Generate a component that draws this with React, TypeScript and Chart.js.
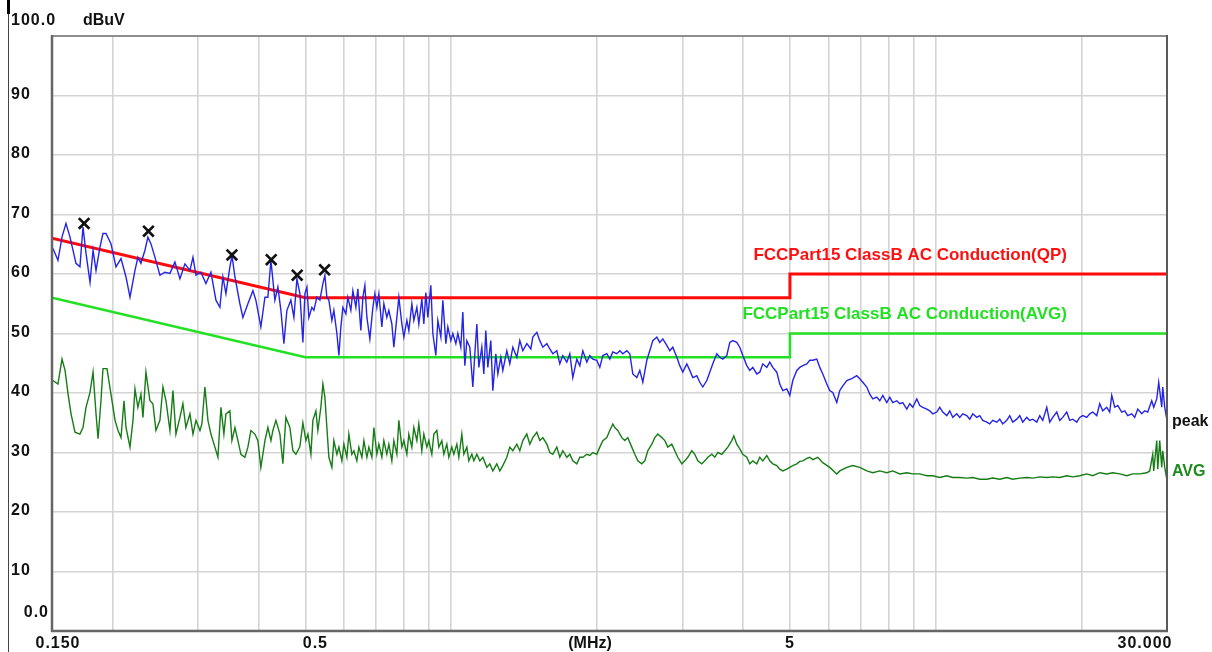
import React, { useEffect, useRef } from "react";
import { Chart, registerables } from "chart.js";

Chart.register(...registerables);

// ---- axis definitions ----
const Y_TICKS = [90, 80, 70, 60, 50, 40, 30, 20, 10];
const X_GRID = [0.15, 0.2, 0.3, 0.4, 0.5, 0.6, 0.7, 0.8, 0.9, 1, 2, 3, 4, 5, 6, 7, 8, 9, 10, 20, 30];
const X_LABELS: [number, string][] = [
  [0.15, "0.150"],
  [0.5, "0.5"],
  [5, "5"],
  [30, "30.000"],
];
const X_UNIT = "(MHz)";
const Y_UNIT = "dBuV";
const Y_TOP = "100.0";
const Y_BOTTOM = "0.0";

// ---- limit lines (MHz, dBuV) ----
const QP_LIMIT: [number, number][] = [[0.15, 66], [0.5, 56], [5, 56], [5, 60], [30, 60]];
const AVG_LIMIT: [number, number][] = [[0.15, 56], [0.5, 46], [5, 46], [5, 50], [30, 50]];
const QP_LABEL = "FCCPart15 ClassB AC Conduction(QP)";
const AVG_LABEL = "FCCPart15 ClassB AC Conduction(AVG)";

// ---- peak markers (MHz, dBuV) ----
const MARKERS: [number, number][] = [
  [0.1747, 68.5], [0.2372, 67.2], [0.3527, 63.2], [0.4251, 62.4], [0.4809, 59.8], [0.5478, 60.7],
];

// ---- peak trace (MHz, dBuV) ----
const PEAK: [number, number][] = [
  [0.1507,64.3],[0.1543,62.3],[0.1573,66.2],[0.1603,68.5],[0.1634,66.2],[0.1681,61.8],[0.1713,61.2],[0.1738,67.9],[0.1763,63.5],[0.1797,58.6],
  [0.1823,64.0],[0.1849,60.6],[0.1884,64.5],[0.1911,66.8],[0.1939,66.8],[0.1985,65.1],[0.2033,61.2],[0.2082,62.6],[0.2132,59.5],[0.2173,56.1],
  [0.2225,60.6],[0.2256,62.8],[0.2289,61.8],[0.2333,64.0],[0.2366,66.2],[0.2400,65.1],[0.2447,62.8],[0.2505,59.8],[0.2565,60.3],[0.2627,60.1],
  [0.2690,62.0],[0.2755,59.2],[0.2821,61.7],[0.2889,60.6],[0.2931,62.8],[0.2973,59.8],[0.3044,60.3],[0.3117,58.4],[0.3192,60.3],[0.3269,55.6],
  [0.3331,54.4],[0.3379,59.5],[0.3428,56.7],[0.3493,61.2],[0.3528,63.1],[0.3578,59.5],[0.3663,55.0],[0.3716,52.7],[0.3805,55.0],[0.3897,57.2],
  [0.3952,55.6],[0.4047,51.1],[0.4126,56.1],[0.4184,56.1],[0.4245,62.3],[0.4326,55.6],[0.4388,57.8],[0.4451,53.9],[0.4515,48.3],[0.4580,53.9],
  [0.4667,55.6],[0.4735,52.7],[0.4803,59.2],[0.4872,56.7],[0.4941,48.5],[0.4989,56.7],[0.5037,57.8],[0.5084,52.7],[0.5157,54.4],[0.5206,53.9],
  [0.5281,56.1],[0.5357,55.6],[0.5434,58.4],[0.5486,59.8],[0.5538,56.1],[0.5591,55.6],[0.5671,52.2],[0.5725,53.9],[0.5808,50.0],[0.5863,46.3],
  [0.5919,51.1],[0.5975,54.4],[0.6061,53.3],[0.6119,56.1],[0.6207,53.9],[0.6266,57.2],[0.6356,54.4],[0.6416,57.5],[0.6508,50.5],[0.6571,56.1],
  [0.6634,58.1],[0.6698,52.7],[0.6793,49.1],[0.6891,54.4],[0.6957,56.7],[0.7023,54.4],[0.7090,56.7],[0.7191,51.1],[0.7260,55.0],[0.7364,52.7],
  [0.7434,53.9],[0.7541,51.6],[0.7613,47.7],[0.7723,52.7],[0.7796,56.1],[0.7908,51.6],[0.7984,49.4],[0.8099,52.2],[0.8175,50.5],[0.8293,55.0],
  [0.8372,52.2],[0.8493,54.4],[0.8573,51.6],[0.8696,55.8],[0.8779,51.6],[0.8863,56.9],[0.8948,52.7],[0.9076,58.1],[0.9163,50.0],[0.9294,46.3],
  [0.9383,52.2],[0.9518,49.4],[0.9609,55.6],[0.9747,48.3],[0.9840,51.1],[0.9981,48.8],[1.0076,50.0],[1.0221,48.3],[1.0319,50.0],[1.0466,47.7],
  [1.0566,53.6],[1.0667,44.6],[1.0769,48.8],[1.0923,47.7],[1.1081,41.0],[1.1187,46.6],[1.1294,51.6],[1.1401,44.3],[1.1564,47.7],[1.1675,43.2],
  [1.1786,50.5],[1.1899,44.3],[1.2069,48.8],[1.2185,40.4],[1.2360,46.6],[1.2479,43.2],[1.2657,46.0],[1.2778,43.8],[1.3023,47.1],[1.3209,44.9],
  [1.3400,47.7],[1.3657,46.0],[1.3852,48.8],[1.4052,47.1],[1.4322,48.3],[1.4596,47.4],[1.4735,49.4],[1.5018,50.2],[1.5233,48.8],[1.5452,47.7],
  [1.5750,48.3],[1.5974,47.4],[1.6204,46.6],[1.6516,47.1],[1.6751,44.9],[1.6993,46.3],[1.7320,45.2],[1.7567,46.6],[1.7820,42.6],[1.8162,45.7],
  [1.8421,44.6],[1.8687,47.1],[1.9046,45.2],[1.9318,46.3],[1.9596,45.7],[1.9973,45.5],[2.0258,44.3],[2.0550,46.3],[2.0945,46.6],[2.1243,45.7],
  [2.1550,46.9],[2.1964,46.6],[2.2277,47.1],[2.2598,46.6],[2.3032,47.1],[2.3360,46.6],[2.3698,43.2],[2.4153,42.6],[2.4498,43.8],[2.4851,41.8],
  [2.5328,45.5],[2.5689,47.1],[2.6061,48.8],[2.6561,49.4],[2.6940,48.5],[2.7329,49.1],[2.7853,48.0],[2.8251,47.1],[2.8658,47.7],[2.9208,46.0],
  [2.9625,44.6],[3.0053,43.5],[3.0630,44.9],[3.1066,43.8],[3.1515,42.6],[3.2120,42.9],[3.2578,41.8],[3.3048,41.0],[3.3683,42.1],[3.4163,43.5],
  [3.4657,44.9],[3.5322,46.6],[3.5826,46.0],[3.6343,45.7],[3.7041,46.3],[3.7569,48.5],[3.8111,48.8],[3.8843,48.5],[3.9397,47.7],[3.9966,46.3],
  [4.0734,44.6],[4.1314,43.8],[4.1910,44.3],[4.2715,43.2],[4.3324,43.5],[4.3950,44.9],[4.4794,44.3],[4.5433,45.2],[4.6088,44.3],[4.6973,43.5],
  [4.7643,41.5],[4.8331,40.4],[4.9259,40.7],[4.9961,39.6],[5.0682,42.1],[5.1656,43.8],[5.2392,44.3],[5.3149,44.6],[5.4170,44.9],[5.4942,45.5],
  [5.5735,45.5],[5.6806,45.7],[5.7616,44.3],[5.8447,43.2],[5.9570,41.5],[6.0419,40.4],[6.1291,40.1],[6.2468,38.4],[6.3359,40.4],[6.4273,41.2],
  [6.5508,42.1],[6.7079,42.4],[6.8696,42.9],[6.9675,42.4],[7.0681,41.8],[7.2038,41.0],[7.3065,39.8],[7.4120,39.0],[7.5544,39.3],[7.6621,38.7],
  [7.7726,39.6],[7.9219,38.4],[8.0349,39.3],[8.1508,38.4],[8.3074,38.7],[8.4258,38.2],[8.5474,38.4],[8.7116,37.3],[8.8358,38.2],[8.9634,37.6],
  [9.1356,39.0],[9.2658,37.9],[9.3995,37.6],[9.5800,37.3],[9.7166,37.0],[9.8569,36.5],[10.046,36.8],[10.189,37.6],[10.336,36.8],[10.535,36.2],
  [10.685,37.0],[10.840,35.9],[11.048,36.5],[11.206,35.9],[11.367,36.5],[11.586,36.2],[11.751,35.6],[11.920,36.5],[12.149,35.9],[12.322,36.2],
  [12.500,35.4],[12.740,35.1],[12.921,34.8],[13.109,35.4],[13.360,35.1],[13.551,35.6],[13.746,34.8],[14.010,35.4],[14.209,36.2],[14.415,35.1],
  [14.692,35.6],[14.901,36.2],[15.116,35.1],[15.407,35.9],[15.626,35.4],[15.852,35.6],[16.156,35.1],[16.387,36.2],[16.623,35.4],[16.943,37.6],
  [17.184,35.1],[17.432,35.9],[17.767,36.8],[18.020,35.4],[18.280,35.9],[18.631,36.8],[18.897,35.4],[19.170,35.6],[19.538,35.1],[19.816,35.9],
  [20.102,36.2],[20.488,35.9],[20.780,36.5],[21.081,36.8],[21.486,36.2],[21.792,38.2],[22.106,37.0],[22.530,37.6],[22.851,36.8],[23.071,39.6],
  [23.403,37.6],[23.738,37.9],[24.194,36.8],[24.542,37.0],[24.893,36.2],[25.371,36.5],[25.736,35.9],[26.104,37.3],[26.605,36.5],[26.988,37.0],
  [27.374,36.8],[27.900,38.7],[28.167,37.6],[28.572,39.0],[28.843,41.8],[29.257,37.6],[29.397,41.0],[29.678,37.6],[30.0,35.4],
];

// ---- average trace (MHz, dBuV) ----
const AVG: [number, number][] = [
  [0.1507,42.1],[0.1543,41.5],[0.1573,45.7],[0.1596,43.8],[0.1619,39.8],[0.1642,36.5],[0.1673,33.4],[0.1713,33.1],[0.1738,34.2],[0.1763,37.6],
  [0.1797,40.1],[0.1823,43.5],[0.1849,36.5],[0.1867,32.3],[0.1893,38.7],[0.1911,44.1],[0.1948,44.1],[0.1985,39.8],[0.2024,35.4],[0.2053,33.7],
  [0.2082,32.5],[0.2112,38.7],[0.2132,34.2],[0.2173,30.9],[0.2204,35.4],[0.2225,40.7],[0.2256,37.6],[0.2289,39.8],[0.2311,35.9],[0.2344,43.5],
  [0.2389,38.7],[0.2423,38.2],[0.2458,33.7],[0.2505,35.4],[0.2541,41.0],[0.2578,38.7],[0.2627,33.7],[0.2665,40.4],[0.2703,33.1],[0.2755,35.9],
  [0.2794,38.2],[0.2834,34.2],[0.2889,36.5],[0.2931,33.1],[0.2973,35.4],[0.3030,33.7],[0.3058,34.8],[0.3102,41.0],[0.3147,35.4],[0.3192,33.1],
  [0.3253,30.9],[0.3300,29.2],[0.3347,37.6],[0.3395,33.1],[0.3428,36.5],[0.3493,37.0],[0.3527,32.0],[0.3578,34.2],[0.3629,32.0],[0.3681,29.7],
  [0.3751,29.2],[0.3805,30.9],[0.3860,33.7],[0.3934,33.1],[0.3990,32.0],[0.4047,27.5],[0.4126,32.0],[0.4184,34.2],[0.4245,32.0],[0.4285,33.7],
  [0.4347,35.4],[0.4430,33.1],[0.4493,28.1],[0.4558,35.9],[0.4645,34.2],[0.4712,30.3],[0.4780,29.7],[0.4872,31.0],[0.4941,35.0],[0.5012,32.0],
  [0.5061,33.1],[0.5133,29.7],[0.5182,35.4],[0.5256,37.0],[0.5306,33.7],[0.5382,37.6],[0.5434,41.5],[0.5486,39.3],[0.5538,34.2],[0.5591,29.2],
  [0.5671,27.5],[0.5725,32.0],[0.5808,29.7],[0.5863,30.9],[0.5947,28.6],[0.6004,31.4],[0.6090,29.2],[0.6148,33.1],[0.6236,29.7],[0.6296,30.3],
  [0.6386,28.6],[0.6447,30.9],[0.6540,29.2],[0.6603,32.0],[0.6698,29.2],[0.6761,30.9],[0.6858,29.2],[0.6924,34.2],[0.7023,29.7],[0.7090,31.4],
  [0.7191,29.2],[0.7260,32.0],[0.7364,29.7],[0.7434,31.4],[0.7541,28.6],[0.7613,32.0],[0.7723,29.7],[0.7796,35.4],[0.7908,30.9],[0.7984,32.0],
  [0.8099,29.7],[0.8175,33.1],[0.8293,30.9],[0.8372,34.2],[0.8493,32.0],[0.8573,34.8],[0.8696,30.3],[0.8779,33.1],[0.8906,30.9],[0.8990,32.0],
  [0.9119,29.7],[0.9207,33.1],[0.9339,33.7],[0.9427,30.9],[0.9563,32.0],[0.9655,29.7],[0.9793,31.4],[0.9886,29.2],[1.0028,30.9],[1.0124,29.7],
  [1.0270,31.4],[1.0367,29.2],[1.0516,33.1],[1.0617,29.7],[1.0769,30.9],[1.0871,28.6],[1.1028,29.7],[1.1134,28.6],[1.1294,29.7],[1.1455,28.6],
  [1.1619,29.2],[1.1843,27.5],[1.2012,28.1],[1.2185,26.9],[1.2419,28.1],[1.2596,26.9],[1.2778,27.8],[1.3023,29.2],[1.3209,30.9],[1.3400,30.3],
  [1.3657,31.4],[1.3852,30.3],[1.4052,32.0],[1.4322,33.1],[1.4526,31.4],[1.4735,32.5],[1.5018,33.4],[1.5233,32.0],[1.5452,32.5],[1.5750,31.4],
  [1.5974,30.0],[1.6204,29.7],[1.6516,30.9],[1.6751,29.2],[1.6993,30.3],[1.7320,29.2],[1.7567,29.7],[1.7820,28.6],[1.8162,28.1],[1.8421,29.2],
  [1.8687,29.2],[1.9046,29.7],[1.9318,29.5],[1.9596,30.0],[1.9973,29.7],[2.0258,30.9],[2.0550,32.0],[2.0945,32.5],[2.1243,33.7],[2.1550,34.8],
  [2.1756,34.2],[2.2069,33.7],[2.2490,32.5],[2.2814,32.0],[2.3142,32.5],[2.3585,30.9],[2.3925,29.7],[2.4269,28.6],[2.4732,28.1],[2.5088,28.6],
  [2.5449,30.3],[2.5936,31.4],[2.6309,32.5],[2.6688,33.1],[2.7198,32.5],[2.7590,32.0],[2.7987,30.9],[2.8521,31.4],[2.8932,30.3],[2.9348,29.2],
  [2.9909,28.1],[3.0340,28.6],[3.0776,29.2],[3.1364,30.3],[3.1816,29.7],[3.2274,28.6],[3.2890,28.1],[3.3364,28.6],[3.3844,29.2],[3.4491,29.7],
  [3.4988,29.2],[3.5491,30.0],[3.6169,29.7],[3.6690,30.3],[3.7218,30.9],[3.7929,32.0],[3.8293,32.8],[3.8843,31.4],[3.9397,30.6],[3.9966,29.7],
  [4.0734,29.2],[4.1314,28.1],[4.1910,28.6],[4.2715,28.1],[4.3324,29.2],[4.3950,28.6],[4.4794,29.5],[4.5433,28.6],[4.6088,28.1],[4.6973,27.8],
  [4.7643,27.2],[4.8331,26.9],[4.9259,27.2],[4.9961,27.5],[5.0682,27.8],[5.1656,28.1],[5.2392,28.5],[5.3149,28.6],[5.4170,29.0],[5.4942,29.2],
  [5.5735,28.8],[5.7078,29.2],[5.8447,28.3],[6.0419,27.5],[6.2468,26.4],[6.3359,26.9],[6.5508,27.5],[6.7400,27.8],[6.9675,27.5],[7.2038,26.9],
  [7.4120,26.6],[7.6621,26.9],[7.9219,26.6],[8.1508,26.9],[8.4258,26.4],[8.7116,26.6],[8.9634,26.4],[9.2658,26.4],[9.5800,26.1],[9.8569,26.1],
  [10.189,25.8],[10.535,26.1],[10.840,25.8],[11.206,25.8],[11.586,25.7],[11.920,25.8],[12.322,25.5],[12.740,25.5],[13.109,25.7],[13.551,25.5],
  [14.010,25.8],[14.415,25.5],[14.901,25.7],[15.407,25.8],[15.852,25.7],[16.387,25.9],[16.943,25.8],[17.432,25.9],[18.020,25.8],[18.631,26.1],
  [19.170,25.9],[19.816,26.1],[20.488,26.4],[21.081,26.1],[21.792,26.6],[22.530,26.4],[23.182,26.6],[23.960,26.4],[24.777,26.1],[25.493,26.4],
  [26.353,26.4],[27.246,26.6],[27.635,26.9],[28.034,29.7],[28.167,26.9],[28.572,32.0],[28.709,27.2],[28.980,32.0],[29.257,27.5],[29.397,30.3],
  [29.678,27.5],[30.0,25.3],
];

const FONT = '"Liberation Sans", Arial, sans-serif';

const toXY = (arr: [number, number][]) => arr.map(([x, y]) => ({ x, y }));

const decorPlugin = {
  id: "decor",
  afterDraw(chart: any) {
    const { ctx, chartArea: a, scales } = chart;
    const xs = scales.x;
    const ys = scales.y;
    ctx.save();

    // plot frame
    ctx.strokeStyle = "#8e8e8e";
    ctx.lineWidth = 2;
    ctx.strokeRect(a.left, a.top, a.right - a.left, a.bottom - a.top);
    ctx.strokeStyle = "#666666";
    ctx.lineWidth = 2.5;
    ctx.beginPath();
    ctx.moveTo(a.left, a.top - 1);
    ctx.lineTo(a.left, a.bottom);
    ctx.lineTo(a.right + 1, a.bottom);
    ctx.stroke();
    ctx.strokeStyle = "#5a5a5a";
    ctx.lineWidth = 2;
    ctx.beginPath();
    ctx.moveTo(a.right, a.top - 1);
    ctx.lineTo(a.right, a.bottom);
    ctx.stroke();

    // page edge line
    ctx.strokeStyle = "#444";
    ctx.lineWidth = 1;
    ctx.beginPath();
    ctx.moveTo(8.5, 0);
    ctx.lineTo(8.5, 652);
    ctx.stroke();
    ctx.fillStyle = "#000";
    ctx.fillRect(7, 0, 3, 14);

    // y axis labels
    ctx.font = `bold 16px ${FONT}`;
    ctx.fillStyle = "#111";
    ctx.textBaseline = "middle";
    ctx.textAlign = "left";
    (ctx as any).letterSpacing = "1px";
    ctx.fillText(Y_TOP, 11, 21);
    Y_TICKS.forEach((v) => ctx.fillText(String(v), 11, ys.getPixelForValue(v) - 1));
    ctx.textAlign = "right";
    ctx.fillText(Y_BOTTOM, 49, 613);
    (ctx as any).letterSpacing = "0px";
    ctx.textAlign = "left";
    ctx.fillText(Y_UNIT, 83, 21);

    // x axis labels
    (ctx as any).letterSpacing = "1px";
    const shift = [6, 10, 0, -22];
    X_LABELS.forEach(([v, t], i) => {
      ctx.textAlign = "center";
      ctx.fillText(t, xs.getPixelForValue(v) + shift[i], 644);
    });
    (ctx as any).letterSpacing = "0px";
    ctx.textAlign = "center";
    ctx.fillText(X_UNIT, 590, 644);

    // limit labels
    ctx.font = `bold 17px ${FONT}`;
    ctx.textAlign = "right";
    ctx.fillStyle = "#ff1010";
    ctx.fillText(QP_LABEL, 1067, 255);
    ctx.fillStyle = "#22e022";
    ctx.fillText(AVG_LABEL, 1067, 314);

    // trace labels
    ctx.font = `bold 16px ${FONT}`;
    ctx.textAlign = "left";
    ctx.fillStyle = "#111";
    ctx.fillText("peak", 1172, 422);
    ctx.fillStyle = "#1c8c1c";
    ctx.fillText("AVG", 1172, 472);

    ctx.restore();
  },
};

export default function App() {
  const ref = useRef<HTMLCanvasElement | null>(null);

  useEffect(() => {
    if (!ref.current) return;
    const chart = new Chart(ref.current, {
      type: "scatter",
      data: {
        datasets: [
          {
            label: "markers",
            data: toXY(MARKERS),
            showLine: false,
            pointStyle: "crossRot",
            pointRadius: 7.5,
            pointBorderWidth: 2.7,
            borderColor: "#111",
            backgroundColor: "#111",
          },
          {
            label: "peak",
            data: toXY(PEAK),
            showLine: true,
            borderColor: "#2424e8",
            borderWidth: 1.4,
            pointRadius: 0,
            tension: 0,
          },
          {
            label: "AVG",
            data: toXY(AVG),
            showLine: true,
            borderColor: "#167c16",
            borderWidth: 1.4,
            pointRadius: 0,
            tension: 0,
          },
          {
            label: "QP limit",
            data: toXY(QP_LIMIT),
            showLine: true,
            borderColor: "#ff0a0a",
            borderWidth: 3,
            pointRadius: 0,
          },
          {
            label: "AVG limit",
            data: toXY(AVG_LIMIT),
            showLine: true,
            borderColor: "#22e022",
            borderWidth: 2.5,
            pointRadius: 0,
          },
        ],
      },
      options: {
        responsive: false,
        animation: false,
        devicePixelRatio: 1,
        layout: { padding: { left: 52, top: 36, right: 45, bottom: 21 } },
        plugins: { legend: { display: false }, tooltip: { enabled: false } },
        scales: {
          x: {
            type: "logarithmic",
            min: 0.15,
            max: 30,
            afterBuildTicks: (scale: any) => {
              scale.ticks = X_GRID.map((value) => ({ value }));
            },
            ticks: { display: false },
            grid: { color: "#d4d4d4", lineWidth: 1.6, drawTicks: false },
            border: { display: false },
          },
          y: {
            type: "linear",
            min: 0,
            max: 100,
            ticks: { display: false, stepSize: 10 },
            grid: { color: "#d4d4d4", lineWidth: 1.6, drawTicks: false },
            border: { display: false },
          },
        },
      },
      plugins: [decorPlugin],
    });
    return () => chart.destroy();
  }, []);

  return (
    <div style={{ position: "absolute", left: 0, top: 0, width: 1212, height: 652, background: "#fff" }}>
      <canvas ref={ref} width={1212} height={652} style={{ display: "block" }} />
    </div>
  );
}
